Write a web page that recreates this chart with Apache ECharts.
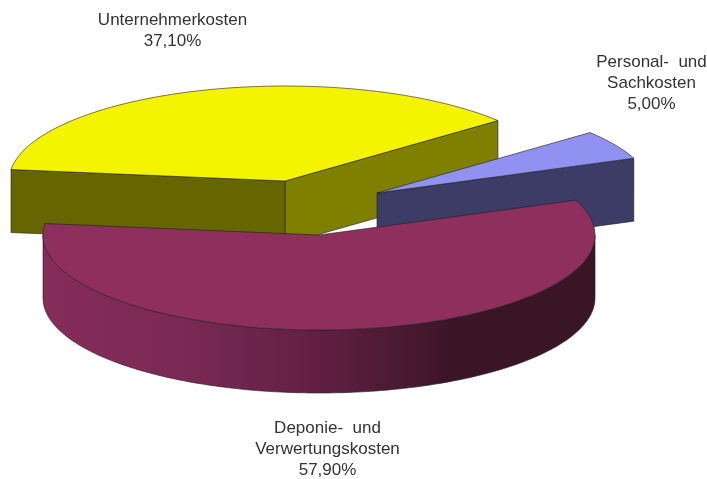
<!DOCTYPE html>
<html>
<head>
<meta charset="utf-8">
<style>
  html, body { margin: 0; padding: 0; background: #fff; }
  #chart { width: 707px; height: 479px; }
</style>
<script src="https://cdn.jsdelivr.net/npm/echarts@6/dist/echarts.min.js"></script>
</head>
<body>
<div id="chart"></div>
<script>
// Slices run counter-clockwise from startAngle, as in the reference.
var categories = ["Personal-  und\nSachkosten", "Unternehmerkosten", "Deponie-  und\nVerwertungskosten"];
var shares = [5.0, 37.1, 57.9];

// Projected pie: one tilted disc, each slice pulled out to its own centre.
var startAngle = 21.5;
var radiusX = 276;
var radiusY = 95;
var depth = 63;
var sliceCentres = [[377, 193], [285, 181], [319, 235]];
var labelCentres = [[651.5, 62], [172.5, 20], [327.5, 428.5]];
var lineHeight = 21;
var drawOrder = [1, 0, 2];

var topColours = ["#9191f2", "#f4f400", "#8f2f5e"];
var startCutColours = ["#3c3c66", "#7f7f00", "#5f1f42"];
var endCutColours = ["#3c3c66", "#666600", "#5f1f42"];
var edge = "rgba(30,30,30,0.75)";

var wallGradient = {
  type: "linear", x: 0, y: 0, x2: 1, y2: 0,
  colorStops: [
    { offset: 0, color: "#862c5a" },
    { offset: 0.25, color: "#7a2a54" },
    { offset: 0.5, color: "#611f43" },
    { offset: 0.75, color: "#3a1526" },
    { offset: 1, color: "#3a1526" }
  ]
};

function percent(v) {
  return v.toFixed(2).replace(".", ",") + "%";
}

function rim(c, deg, drop) {
  var a = deg * Math.PI / 180;
  return [c[0] + radiusX * Math.cos(a), c[1] - radiusY * Math.sin(a) + (drop || 0)];
}

function arc(c, from, to, drop) {
  var pts = [];
  var n = Math.max(2, Math.ceil(Math.abs(to - from)));
  for (var i = 0; i <= n; i++) {
    pts.push(rim(c, from + (to - from) * i / n, drop));
  }
  return pts;
}

function face(points, fill, z2) {
  return {
    type: "polygon",
    z2: z2,
    shape: { points: points },
    style: { fill: fill, stroke: edge, lineWidth: 0.8, lineJoin: "round" }
  };
}

// A cut face shows only when its outward normal points down the screen.
function cutFace(c, deg, fill, z2) {
  var tip = [c[0], c[1]];
  var r = rim(c, deg);
  return face([tip, r, [r[0], r[1] + depth], [tip[0], tip[1] + depth]], fill, z2);
}

function renderSlice(params, api) {
  var i = params.dataIndex;
  var total = shares.reduce(function (a, b) { return a + b; }, 0);
  var before = 0;
  for (var k = 0; k < i; k++) before += shares[k];
  var a0 = startAngle + 360 * before / total;
  var a1 = a0 + 360 * api.value(0) / total;
  var c = sliceCentres[i];
  var z = 10 * (drawOrder[i] + 1);
  var children = [];

  if (Math.cos(a0 * Math.PI / 180) > 0) {
    children.push(cutFace(c, a0, startCutColours[i], z));
  }
  if (Math.cos(a1 * Math.PI / 180) < 0) {
    children.push(cutFace(c, a1, endCutColours[i], z));
  }

  // Front wall: the part of the rim on the lower half of the ellipse.
  for (var turn = 0; turn <= 360; turn += 360) {
    var from = Math.max(a0, 180 + turn);
    var to = Math.min(a1, 360 + turn);
    if (to > from) {
      var wall = arc(c, from, to).concat(arc(c, to, from, depth));
      children.push(face(wall, wallGradient, z + 1));
    }
  }

  children.push(face([[c[0], c[1]]].concat(arc(c, a0, a1)), topColours[i], z + 2));

  // Label: the category lines followed by the percentage.
  var lines = categories[i].split("\n").concat(percent(api.value(0)));
  lines.forEach(function (line, n) {
    children.push({
      type: "text",
      z2: 50,
      x: labelCentres[i][0],
      y: labelCentres[i][1] + n * lineHeight,
      style: {
        text: line,
        fill: "#333333",
        font: '17px "Liberation Sans", Arial, sans-serif',
        textAlign: "center",
        textVerticalAlign: "middle"
      }
    });
  });

  return { type: "group", children: children };
}

var chart = echarts.init(document.getElementById("chart"), null, { renderer: "canvas" });
chart.setOption({
  animation: false,
  backgroundColor: "#ffffff",
  series: [{
    type: "custom",
    coordinateSystem: "none",
    renderItem: renderSlice,
    data: shares.map(function (v) { return [v]; }),
    silent: true
  }]
});
</script>
</body>
</html>
